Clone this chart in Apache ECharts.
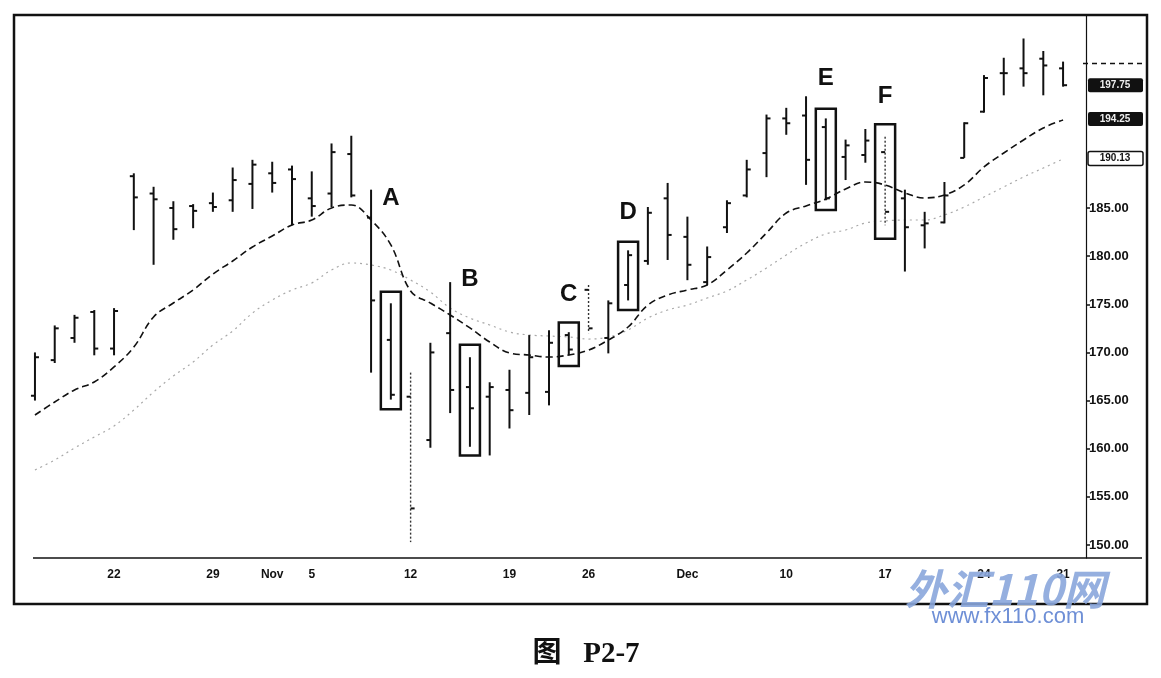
<!DOCTYPE html>
<html><head><meta charset="utf-8">
<script src="https://cdn.jsdelivr.net/npm/echarts@6/dist/echarts.min.js"></script>
<style>html,body{margin:0;padding:0;background:#fff}#c{width:1161px;height:678px}</style>
</head><body><div id="c"></div><script>
// ---- data ----
const dates = ['10-16','10-17','10-18','10-19','10-22','10-23','10-24','10-25','10-26','10-29','10-30','10-31','11-01','11-02','11-05','11-06','11-07','11-08','11-09','11-12','11-13','11-14','11-15','11-16','11-19','11-20','11-21','11-23','11-26','11-27','11-28','11-29','11-30','12-03','12-04','12-05','12-06','12-07','12-10','12-11','12-12','12-13','12-14','12-17','12-18','12-19','12-20','12-21','12-24','12-26','12-27','12-28','12-31'];
const opens  = [165.5,169.2,171.5,174.2,170.4,188.3,186.5,185.0,185.2,185.5,185.8,187.5,188.6,189.0,186.0,186.5,190.6,184.0,171.3,165.4,160.9,172.0,166.4,165.4,166.1,165.8,165.9,171.8,176.5,171.5,177.0,179.5,186.0,182.0,177.3,183.0,186.3,190.7,194.3,194.6,193.4,190.3,190.5,190.8,186.0,183.2,183.5,190.2,195.0,199.0,199.5,200.5,199.5];
const highs  = [170.0,172.8,173.9,174.4,174.6,188.6,187.2,185.7,185.4,186.6,189.2,190.0,189.8,189.4,188.8,191.7,192.5,186.9,175.1,167.9,171.0,177.3,169.5,166.9,168.2,171.8,172.3,172.1,177.0,175.4,180.6,185.1,187.6,184.1,181.0,185.8,190.0,194.7,195.4,196.6,194.3,192.1,193.2,192.4,186.9,184.6,187.7,193.9,198.8,200.6,202.6,201.3,200.2];
const lows   = [165.0,168.9,171.0,169.7,169.7,182.7,179.1,181.7,182.9,184.6,184.6,184.9,186.6,183.2,184.1,185.1,186.1,167.9,165.1,150.3,160.1,163.7,160.2,159.3,162.1,163.5,164.5,169.7,172.0,169.9,175.4,179.1,179.6,177.5,177.0,182.4,186.1,188.2,192.6,187.4,185.8,187.9,189.7,183.2,178.4,180.8,183.4,190.2,194.9,196.7,197.6,196.7,197.6];
const closes = [169.5,172.5,173.6,170.4,174.3,186.1,185.9,182.8,184.7,185.1,187.9,189.5,187.6,188.0,185.2,190.8,186.3,175.4,165.6,153.8,170.0,166.1,164.2,166.4,164.0,169.5,171.0,170.3,172.5,175.1,180.1,184.5,182.2,179.1,179.9,185.5,189.0,194.3,193.8,190.0,186.0,191.5,192.0,184.6,183.0,183.4,186.3,193.8,198.5,199.0,199.0,199.8,197.75];
const maFast = [163.50,164.85,166.10,166.93,168.49,170.56,173.68,175.13,176.48,178.14,179.49,180.95,182.09,183.23,183.75,185.00,185.31,183.75,181.16,176.38,175.13,173.89,172.54,171.08,169.94,169.73,169.52,169.73,170.25,171.29,172.64,174.92,175.96,176.48,177.00,178.56,180.32,182.40,184.48,185.21,185.93,186.97,187.70,187.39,186.56,186.04,186.35,187.39,189.26,190.71,192.06,193.31,194.14];
const maSlow = [157.79,158.83,160.07,161.22,162.36,164.02,165.89,167.55,169.00,170.77,172.22,174.09,175.44,176.48,177.21,178.56,179.29,179.08,178.56,177.52,176.27,174.61,173.57,172.85,172.12,171.81,171.70,171.60,171.39,171.60,172.33,173.57,174.40,174.92,175.65,176.38,177.52,178.77,180.12,181.36,182.30,182.71,183.44,183.65,183.75,183.75,184.27,185.10,186.14,187.18,188.22,189.15,190.09];
const xTickDates  = ['10-22','10-29','11-01','11-05','11-12','11-19','11-26','12-03','12-10','12-17','12-24','12-31'];
const xTickLabels = ['22','29','Nov','5','12','19','26','Dec','10','17','24','31'];
const yTickValues = [150,155,160,165,170,175,180,185];
const boxLetters = ['A','B','C','D','E','F'];
const boxDates   = ['11-09','11-15','11-23','11-28','12-12','12-17'];
const boxTops    = [176.3,170.8,173.1,181.5,195.3,193.7];
const boxBottoms = [164.1,159.3,168.6,174.4,184.8,181.8];
const letterPrices = [186.0,177.6,176.0,184.5,198.5,196.6];
const tagPrices = [197.75,194.25,190.13];
const tagTexts  = ['197.75','194.25','190.13'];
const refLine200 = 200;

// ---- styling / layout ----
const lightBars = ['11-12','11-26','12-17'];
const X_MIN = -1.06, X_MAX = 53.16, Y_MIN = 148.65, Y_MAX = 205.04;
const xTickIdx = xTickDates.map(d => dates.indexOf(d));

const chart = echarts.init(document.getElementById('c'), null, {renderer:'canvas'});
const ohlcData = dates.map((d,i)=>[i, opens[i], highs[i], lows[i], closes[i]]);
const boxData = boxDates.map((d,i)=>[dates.indexOf(d), boxTops[i], boxBottoms[i], letterPrices[i]]);
const tagData = tagPrices.map((p,i)=>[X_MAX, p]);

chart.setOption({
  animation:false,
  backgroundColor:'#fff',
  grid:{left:14, right:75, top:15, bottom:120, containLabel:false},
  xAxis:{type:'value', min:X_MIN, max:X_MAX,
    axisLine:{show:false, onZero:false}, splitLine:{show:false},
    axisTick:{show:false},
    axisLabel:{customValues:xTickIdx, margin:11, color:'#111', fontSize:12, fontWeight:'bold',
      fontFamily:'Liberation Sans Narrow, Liberation Sans, Arial, sans-serif',
      formatter:(v)=>{const k=xTickIdx.indexOf(Math.round(v)); return k>=0?xTickLabels[k]:'';}}
  },
  yAxis:{type:'value', position:'right', min:Y_MIN, max:Y_MAX,
    axisLine:{show:true, onZero:false, lineStyle:{color:'#111', width:1.2}},
    splitLine:{show:false},
    axisTick:{show:true, customValues:yTickValues, length:4, lineStyle:{color:'#111', width:1.5}},
    axisLabel:{customValues:yTickValues, margin:3, color:'#111', fontSize:13, fontWeight:'bold',
      fontFamily:'Liberation Sans, Arial, sans-serif', formatter:(v)=>v.toFixed(2)}
  },
  series:[
    {type:'line', data:maSlow.map((v,i)=>[i,v]), smooth:0.4, symbol:'none',
      lineStyle:{color:'#a8a8a8', width:1.2, type:[2,4]}, z:2},
    {type:'line', data:maFast.map((v,i)=>[i,v]), smooth:0.4, symbol:'none',
      lineStyle:{color:'#111', width:1.6, type:[7,4]}, z:3},
    {type:'custom', data:ohlcData, z:4,
      renderItem:(params, api)=>{
        const x = api.value(0);
        const o = api.coord([x, api.value(1)]), h = api.coord([x, api.value(2)]);
        const l = api.coord([x, api.value(3)]), c = api.coord([x, api.value(4)]);
        const light = lightBars.indexOf(dates[params.dataIndex])>=0;
        const st = light ? {stroke:'#333', lineWidth:1.4, lineDash:[2,2]} : {stroke:'#111', lineWidth:2};
        const tk = {stroke:'#111', lineWidth:2};
        return {type:'group', children:[
          {type:'line', shape:{x1:h[0], y1:h[1], x2:l[0], y2:l[1]}, style:st},
          {type:'line', shape:{x1:o[0]-4, y1:o[1], x2:o[0], y2:o[1]}, style:tk},
          {type:'line', shape:{x1:c[0], y1:c[1], x2:c[0]+4, y2:c[1]}, style:tk}
        ]};
      }},
    {type:'custom', data:boxData, z:5,
      renderItem:(params, api)=>{
        const i = api.value(0);
        const t = api.coord([i, api.value(1)]), b = api.coord([i, api.value(2)]);
        const lp = api.coord([i, api.value(3)]);
        return {type:'group', children:[
          {type:'rect', shape:{x:t[0]-10, y:t[1], width:20, height:b[1]-t[1]},
            style:{fill:'none', stroke:'#111', lineWidth:2.5}},
          {type:'text', x:lp[0], y:lp[1], style:{text:boxLetters[params.dataIndex], fill:'#111',
            font:'bold 24px "Liberation Sans", Arial, sans-serif', align:'center', verticalAlign:'middle'}}
        ]};
      }},
    {type:'custom', data:tagData, z:6, clip:false,
      renderItem:(params, api)=>{
        const p = api.coord([api.value(0), api.value(1)]);
        const k = params.dataIndex;
        const dark = k < 2;
        const ch = [
          {type:'rect', shape:{x:p[0]+2, y:p[1]-7, width:55, height:14, r:2},
            style:{fill: dark?'#111':'#fff', stroke:'#111', lineWidth: dark?0:1.5}},
          {type:'text', x:p[0]+29, y:p[1], style:{text:tagTexts[k], fill: dark?'#eee':'#111',
            font:'bold 10px "Liberation Sans", Arial, sans-serif', align:'center', verticalAlign:'middle'}}
        ];
        if (k === 0) {
          const r = api.coord([api.value(0), refLine200]);
          ch.push({type:'line', shape:{x1:r[0]-3, y1:r[1], x2:r[0]+56, y2:r[1]},
            style:{stroke:'#111', lineWidth:1.5, lineDash:[5,4]}});
        }
        return {type:'group', children:ch};
      }}
  ],
  graphic:[
    {type:'rect', shape:{x:14, y:15, width:1133, height:589}, style:{fill:'none', stroke:'#111', lineWidth:2.5}, z:10},
    {type:'line', shape:{x1:33, y1:558, x2:1142, y2:558}, style:{stroke:'#111', lineWidth:1.5}, z:10},
    {type:'text', x:586, y:655, style:{text:'图   P2-7', fill:'#111', font:'bold 29px "Liberation Serif", "Noto Sans CJK SC", serif', align:'center', verticalAlign:'middle'}, z:10},
    {type:'text', x:1005, y:589, style:{text:'外汇110网', fill:'#8aa6dc', font:'italic bold 42px "Noto Sans CJK SC", sans-serif', align:'center', verticalAlign:'middle', opacity:0.9}, z:11},
    {type:'text', x:1008, y:617, style:{text:'www.fx110.com', fill:'#6e8fd6', font:'22px "Liberation Sans Narrow", "Liberation Sans", Arial, sans-serif', align:'center', verticalAlign:'middle'}, z:11}
  ]
});
</script></body></html>
